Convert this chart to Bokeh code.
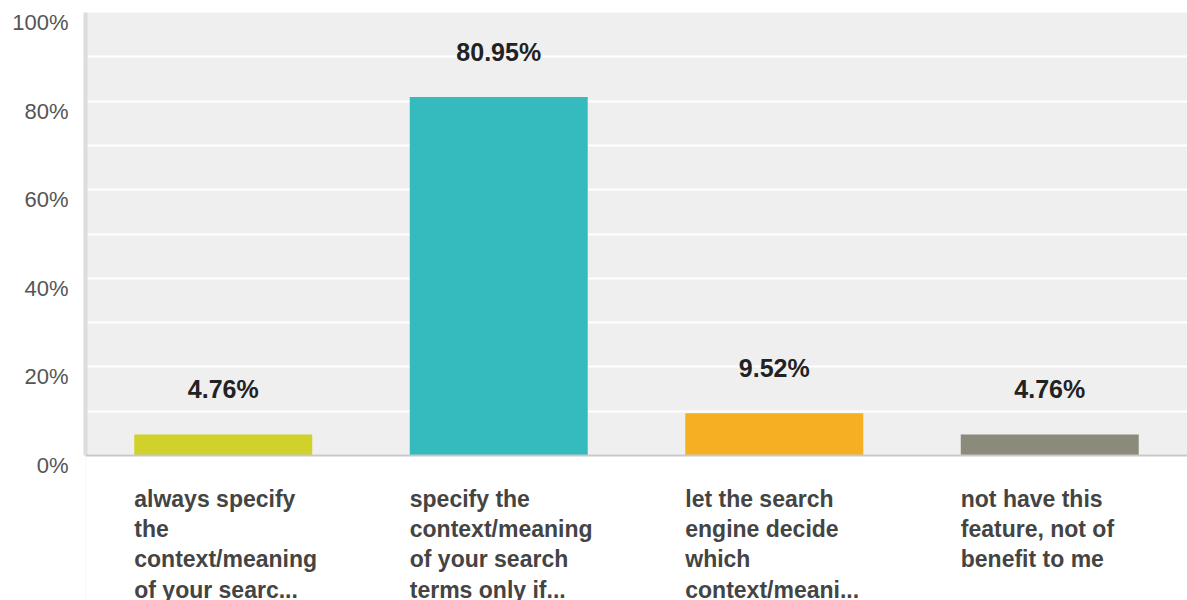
from bokeh.plotting import figure
from bokeh.models import (ColumnDataSource, FactorRange, FixedTicker, LabelSet,
                          Range1d, LinearAxis, BoxAnnotation, Span)
from bokeh.core.properties import value
from bokeh.embed import file_html
from bokeh.resources import INLINE

categories = ["c1", "c2", "c3", "c4"]
category_labels = [
    ["always specify", "the", "context/meaning", "of your searc..."],
    ["specify the", "context/meaning", "of your search", "terms only if..."],
    ["let the search", "engine decide", "which", "context/meani..."],
    ["not have this", "feature, not of", "benefit to me"],
]
values = [4.76, 80.95, 9.52, 4.76]
value_labels = ["4.76%", "80.95%", "9.52%", "4.76%"]
colors = ["#d0d12b", "#35bbbd", "#f6ae22", "#8b8a7b"]
y_ticks = [0, 20, 40, 60, 80, 100]
y_tick_labels = ["0%", "20%", "40%", "60%", "80%", "100%"]
grid_ticks = [0, 10, 20, 30, 40, 50, 60, 70, 80, 90, 100]

FONT = "Liberation Sans"
W, H = 1187, 600
FRAME_L, FRAME_T, AXIS_Y = 85, 12, 455   # plot area: left edge, top edge, baseline (px)
BAR_W = 0.646
LABEL_DROP = 10               # y tick labels sit this many px below their gridline
LINE_1 = 43                   # first category line centre, px below the baseline
LINE_STEP = 30.4              # category line spacing, px

px_per_unit = (AXIS_Y - FRAME_T) / 100
y_start = -(H - AXIS_Y) / px_per_unit      # frame runs down to the bottom of the canvas
shift = LABEL_DROP / px_per_unit
frame_w = W - FRAME_L
cat_w = frame_w / len(categories)

src = ColumnDataSource(dict(cat=categories, val=values, vlab=value_labels, color=colors))

p = figure(width=W, height=H,
           x_range=FactorRange(*categories, range_padding=0),
           y_range=Range1d(y_start, 100), output_backend="svg", toolbar_location=None,
           x_axis_location=None,
           min_border_left=FRAME_L, min_border_right=0, min_border_top=FRAME_T,
           min_border_bottom=0)
p.background_fill_color = "#efefef"
p.border_fill_color = "white"
p.outline_line_color = None

# grid
p.xgrid.grid_line_color = None
p.ygrid.ticker = FixedTicker(ticks=grid_ticks)
p.ygrid.grid_line_color = "white"
p.ygrid.grid_line_width = 2

# white area below the baseline (drawn under the glyphs, over the grid)
p.add_layout(BoxAnnotation(top=0, level="underlay", fill_color="white", fill_alpha=1,
                           line_color=None))

p.vbar(x="cat", top="val", width=BAR_W, color="color", source=src, line_color=None)

# baseline
p.add_layout(Span(location=0, dimension="width", line_color="#c8c8c8", line_width=2))

# main y axis: border line only, from 0 to 100
p.yaxis.ticker = FixedTicker(ticks=y_ticks)
p.yaxis.bounds = (0, 100)
p.yaxis.major_label_text_font_size = "0px"
p.yaxis.major_label_text_color = None
p.yaxis.major_label_standoff = 0
p.yaxis.major_tick_out = 0
p.yaxis.minor_tick_out = 0
p.yaxis.major_tick_line_color = None
p.yaxis.minor_tick_line_color = None
p.yaxis.axis_line_color = "#dcdcdc"
p.yaxis.axis_line_width = 4

# label axis on a range shifted so labels fall a little below their gridlines
p.extra_y_ranges = {"lab": Range1d(y_start + shift, 100 + shift)}
lab_axis = LinearAxis(y_range_name="lab", ticker=FixedTicker(ticks=y_ticks),
                      major_label_overrides={t: s for t, s in zip(y_ticks, y_tick_labels)})
lab_axis.axis_line_color = None
lab_axis.major_tick_line_color = None
lab_axis.minor_tick_line_color = None
lab_axis.major_tick_out = 0
lab_axis.minor_tick_out = 0
lab_axis.major_label_standoff = 17
lab_axis.major_label_text_font = FONT
lab_axis.major_label_text_font_size = "22px"
lab_axis.major_label_text_color = "#555555"
p.add_layout(lab_axis, "left")

# value labels
vl = LabelSet(x="cat", y="val", text="vlab", source=src, y_offset=45,
              text_align="center", text_baseline="middle",
              text_font=value(FONT), text_font_size="25px", text_font_style="bold",
              text_color="#222222")
p.add_layout(vl)

# category labels, one row per line, below the baseline
cx, cy, ct, coff = [], [], [], []
for c, lines in zip(categories, category_labels):
    for i, line in enumerate(lines):
        cx.append(c)
        cy.append(0)
        ct.append(line)
        coff.append(-(LINE_1 + i * LINE_STEP))
csrc = ColumnDataSource(dict(x=cx, y=cy, t=ct, off=coff))
cl = LabelSet(x="x", y="y", text="t", source=csrc,
              x_offset=-BAR_W * cat_w / 2, y_offset="off",
              text_align="left", text_baseline="middle",
              text_font=value(FONT), text_font_size="23px", text_font_style="bold",
              text_color="#444444")
p.add_layout(cl)

open("out.html", "w").write(file_html(p, INLINE))
